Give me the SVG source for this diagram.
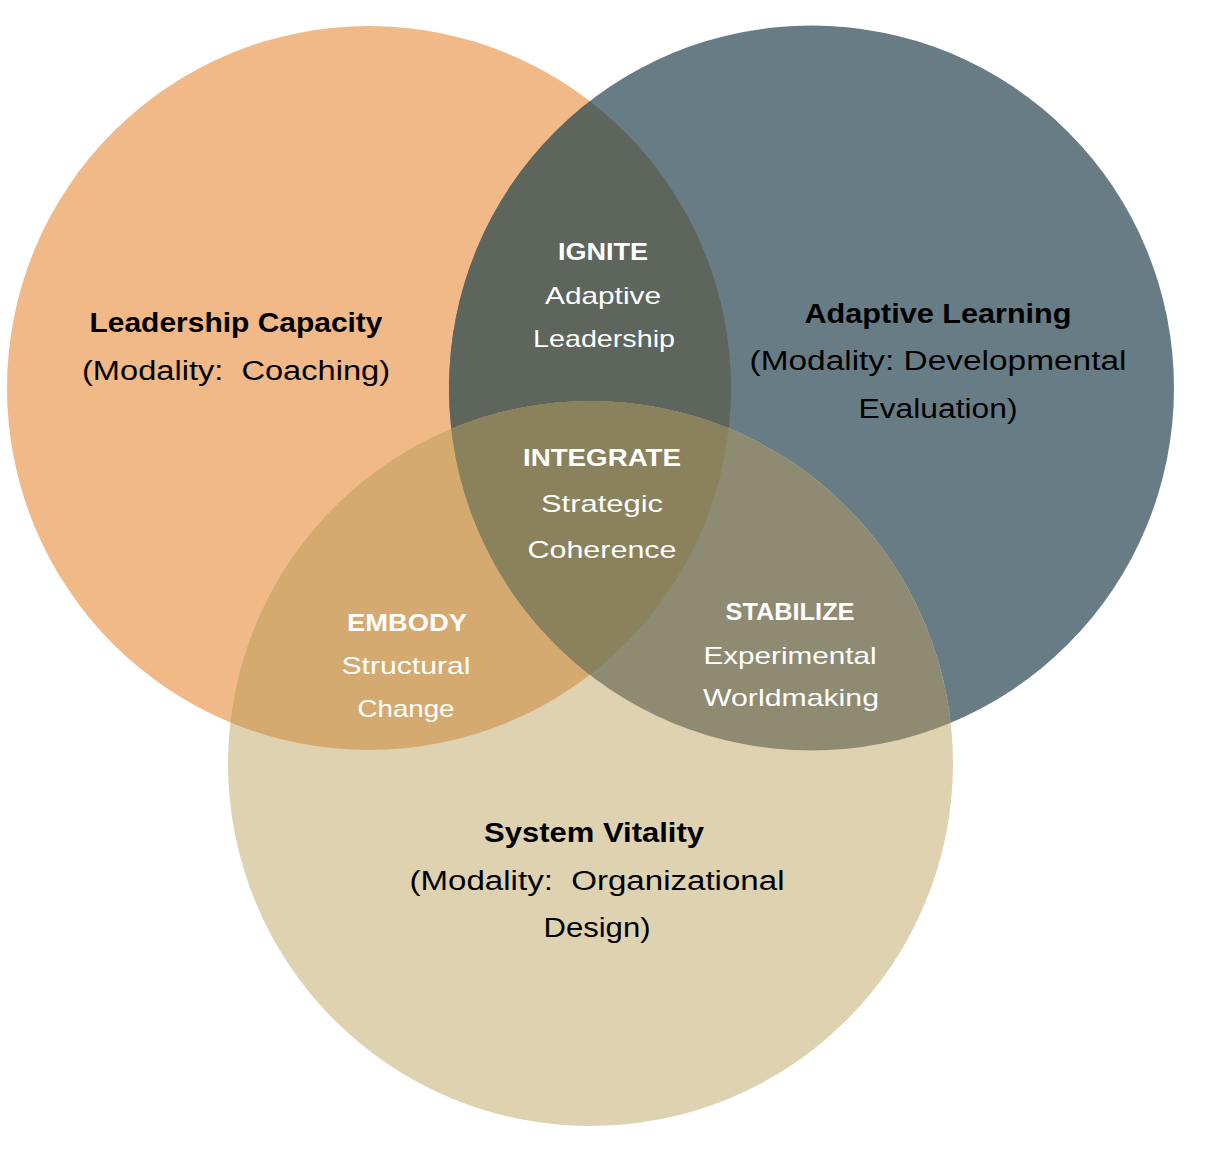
<svg xmlns="http://www.w3.org/2000/svg" width="1226" height="1162" viewBox="0 0 1226 1162">
<style>
text{font-family:"Liberation Sans",Arial,sans-serif;text-anchor:middle;white-space:pre}
.h{font-weight:bold;font-size:27px;fill:#000}
.s{font-size:27px;fill:#000}
.ih{font-weight:bold;font-size:24px;fill:#fff}
.is{font-size:24px;fill:#fff}
</style>
<defs>
<clipPath id="cO"><circle cx="369" cy="388" r="362"/></clipPath>
<clipPath id="cB"><circle cx="811.5" cy="388" r="362.5"/></clipPath>
</defs>
<rect width="1226" height="1162" fill="#fff"/>
<g id="circles">
<circle id="leadership" cx="369" cy="388" r="362" fill="#F0B987"/>
<circle id="learning" cx="811.5" cy="388" r="362.5" fill="#687C86"/>
<circle id="vitality" cx="590.5" cy="763.5" r="362.5" fill="#DFD2B1"/>
<circle id="ignite-area" cx="811.5" cy="388" r="362.5" fill="#5E655D" clip-path="url(#cO)"/>
<circle id="embody-area" cx="590.5" cy="763.5" r="362.5" fill="#D4AA71" clip-path="url(#cO)"/>
<circle id="stabilize-area" cx="590.5" cy="763.5" r="362.5" fill="#8F8B72" clip-path="url(#cB)"/>
<g clip-path="url(#cO)"><circle id="integrate-area" cx="590.5" cy="763.5" r="362.5" fill="#8A825D" clip-path="url(#cB)"/></g>
</g>
<g id="n-leadership">
<text class="h" x="236" y="332" textLength="293" lengthAdjust="spacingAndGlyphs">Leadership Capacity</text>
<text class="s" x="236" y="380" textLength="308" lengthAdjust="spacingAndGlyphs">(Modality:  Coaching)</text>
</g>
<g id="n-learning">
<text class="h" x="938" y="323" textLength="267" lengthAdjust="spacingAndGlyphs">Adaptive Learning</text>
<text class="s" x="938" y="370" textLength="377" lengthAdjust="spacingAndGlyphs">(Modality: Developmental</text>
<text class="s" x="938" y="418" textLength="159" lengthAdjust="spacingAndGlyphs">Evaluation)</text>
</g>
<g id="n-vitality">
<text class="h" x="594" y="842" textLength="220" lengthAdjust="spacingAndGlyphs">System Vitality</text>
<text class="s" x="597" y="890" textLength="375" lengthAdjust="spacingAndGlyphs">(Modality:  Organizational</text>
<text class="s" x="597" y="937" textLength="107" lengthAdjust="spacingAndGlyphs">Design)</text>
</g>
<g id="n-ignite">
<text class="ih" x="603" y="260" textLength="90" lengthAdjust="spacingAndGlyphs">IGNITE</text>
<text class="is" x="603" y="304" textLength="116" lengthAdjust="spacingAndGlyphs">Adaptive</text>
<text class="is" x="604" y="347" textLength="142" lengthAdjust="spacingAndGlyphs">Leadership</text>
</g>
<g id="n-integrate">
<text class="ih" x="602" y="466" textLength="158" lengthAdjust="spacingAndGlyphs">INTEGRATE</text>
<text class="is" x="602" y="512" textLength="122" lengthAdjust="spacingAndGlyphs">Strategic</text>
<text class="is" x="602" y="558" textLength="149" lengthAdjust="spacingAndGlyphs">Coherence</text>
</g>
<g id="n-embody">
<text class="ih" x="407" y="631" textLength="120" lengthAdjust="spacingAndGlyphs">EMBODY</text>
<text class="is" x="406" y="674" textLength="129" lengthAdjust="spacingAndGlyphs">Structural</text>
<text class="is" x="406" y="717" textLength="97" lengthAdjust="spacingAndGlyphs">Change</text>
</g>
<g id="n-stabilize">
<text class="ih" x="790" y="620" textLength="129" lengthAdjust="spacingAndGlyphs">STABILIZE</text>
<text class="is" x="790" y="664" textLength="173" lengthAdjust="spacingAndGlyphs">Experimental</text>
<text class="is" x="791" y="706" textLength="176" lengthAdjust="spacingAndGlyphs">Worldmaking</text>
</g>
<g id="connectors"></g>
</svg>
